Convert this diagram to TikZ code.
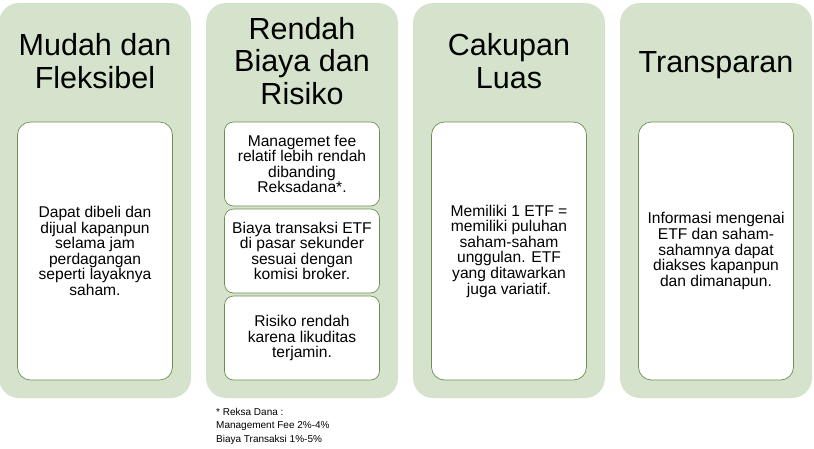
\documentclass[tikz,border=0pt]{standalone}
\usepackage{fontspec}
\setmainfont{Liberation Sans}
\usepackage{tikz}
\usetikzlibrary{positioning}
\definecolor{panelgreen}{HTML}{D5E3CD}
\definecolor{cardline}{HTML}{6F8F52}
\tikzset{
  panel/.style={fill=panelgreen, draw=none, rounded corners=20pt},
  card/.style={fill=white, draw=cardline, line width=0.7pt, rounded corners=13pt,
    minimum width=155pt, align=center, inner sep=0pt},
  smallcard/.style={card, rounded corners=9pt, minimum height=84pt},
  bigcard/.style={card, minimum height=258pt},
  heading/.style={align=center, inner sep=0pt, font=\fontsize{30.5}{32.5}\selectfont},
  body/.style={font=\fontsize{15.6}{15.6}\selectfont},
  note/.style={align=left, inner sep=0pt, font=\fontsize{10}{13.5}\selectfont},
}
\begin{document}
\begin{tikzpicture}[x=1pt, y=-1pt]
      \useasboundingbox (0,0) rectangle (814,448);

      % Green panels in the back
      \fill[panel] (-1,3) rectangle (191,398);
      \fill[panel] (206,3) rectangle (398,398);
      \fill[panel] (413,3) rectangle (605,398);
      \fill[panel] (620,3) rectangle (812,398);

      % Panel titles
      \node[heading] (mudah) at (95,61) {Mudah dan\\Fleksibel};
      \node[heading] (rendah) at (302,61) {Rendah\\Biaya dan\\Risiko};
      \node[heading] (cakupan) at (509,61) {Cakupan\\Luas};
      \node[heading] (transparan) at (716,65) {Transparan};

      % White cards with the details
      \node[bigcard, body] (dapat) at (95,251)
        {Dapat dibeli dan\\dijual kapanpun\\selama jam\\perdagangan\\seperti layaknya\\saham.};
      \node[smallcard, body] (fee) at (302,164)
        {Managemet fee\\relatif lebih rendah\\dibanding\\Reksadana*.};
      \node[smallcard, body] (biaya) at (302,251)
        {Biaya transaksi ETF\\di pasar sekunder\\sesuai dengan\\komisi broker.};
      \node[smallcard, body] (risiko) at (302,338)
        {Risiko rendah\\karena likuditas\\terjamin.};
      \node[bigcard, body] (memiliki) at (509,251)
        {Memiliki 1 ETF =\\memiliki puluhan\\saham-saham\\unggulan. ETF\\yang ditawarkan\\juga variatif.};
      \node[bigcard, body] (informasi) at (716,251)
        {Informasi mengenai\\ETF dan saham-\\sahamnya dapat\\diakses kapanpun\\dan dimanapun.};

      % Footnote under the second panel
      \node[note, anchor=north west] (reksa) at (216,408)
        {* Reksa Dana :\\Management Fee 2\%-4\%\\Biaya Transaksi 1\%-5\%};
\end{tikzpicture}
\end{document}
